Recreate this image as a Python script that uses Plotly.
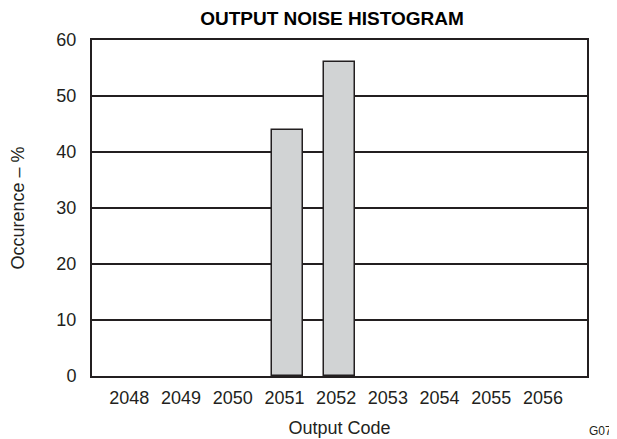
import plotly.graph_objects as go

codes = [2048, 2049, 2050, 2051, 2052, 2053, 2054, 2055, 2056]
occurrence = [0, 0, 0, 44, 56, 0, 0, 0, 0]
tick_labels = [str(c) for c in codes]
y_ticks = [0, 10, 20, 30, 40, 50, 60]

line_c = "#231f20"
OFF = 8  # page body margin
W, H = 617 - OFF, 439 - OFF
L, T = 92 - OFF, 40 - OFF
R = 617 - 587
B = 439 - 376
fig = go.Figure()
fig.add_trace(go.Bar(
    x=codes, y=occurrence, width=0.6, offset=-0.24,
    marker=dict(color="#d1d3d4",
                line=dict(color=line_c, width=[1.5 if v > 0 else 0 for v in occurrence])),
))
fig.update_layout(
    width=W, height=H,
    margin=dict(l=L, r=R, t=T, b=B, autoexpand=False),
    paper_bgcolor="white", plot_bgcolor="white",
    font=dict(family="Liberation Sans, Arial, sans-serif", size=18, color=line_c),
    title=dict(text="<b>OUTPUT NOISE HISTOGRAM</b>", x=(332 - OFF) / W, xanchor="center",
               y=1 - (18 - OFF) / H, yanchor="middle", font=dict(size=19, color="#000")),
    showlegend=False,
    bargap=0,
)
fig.update_xaxes(
    range=[2047.28, 2056.85], tickvals=codes, ticktext=tick_labels,
    showgrid=False, zeroline=False, showline=True, mirror=True,
    linecolor=line_c, linewidth=2, ticks="",
    ticklabelstandoff=4, automargin=False,
    title=dict(text="Output Code", font=dict(size=18), standoff=15),
    tickfont=dict(size=18),
)
fig.update_yaxes(
    range=[0, 60], tickvals=y_ticks,
    showgrid=True, gridcolor=line_c, gridwidth=1.5, zeroline=False,
    showline=True, mirror=True, linecolor=line_c, linewidth=2, ticks="",
    ticklabelstandoff=10, automargin=False,
    title=dict(text="Occurence – %", font=dict(size=18), standoff=34),
    tickfont=dict(size=18),
)
fig.add_annotation(text="G076", xref="paper", yref="paper",
                   x=(587 - OFF - L) / (W - L - R), y=(H - (431 - OFF) - B) / (H - T - B),
                   xanchor="left", yanchor="middle", showarrow=False,
                   font=dict(size=12, color=line_c))
fig.write_html("out.html")
